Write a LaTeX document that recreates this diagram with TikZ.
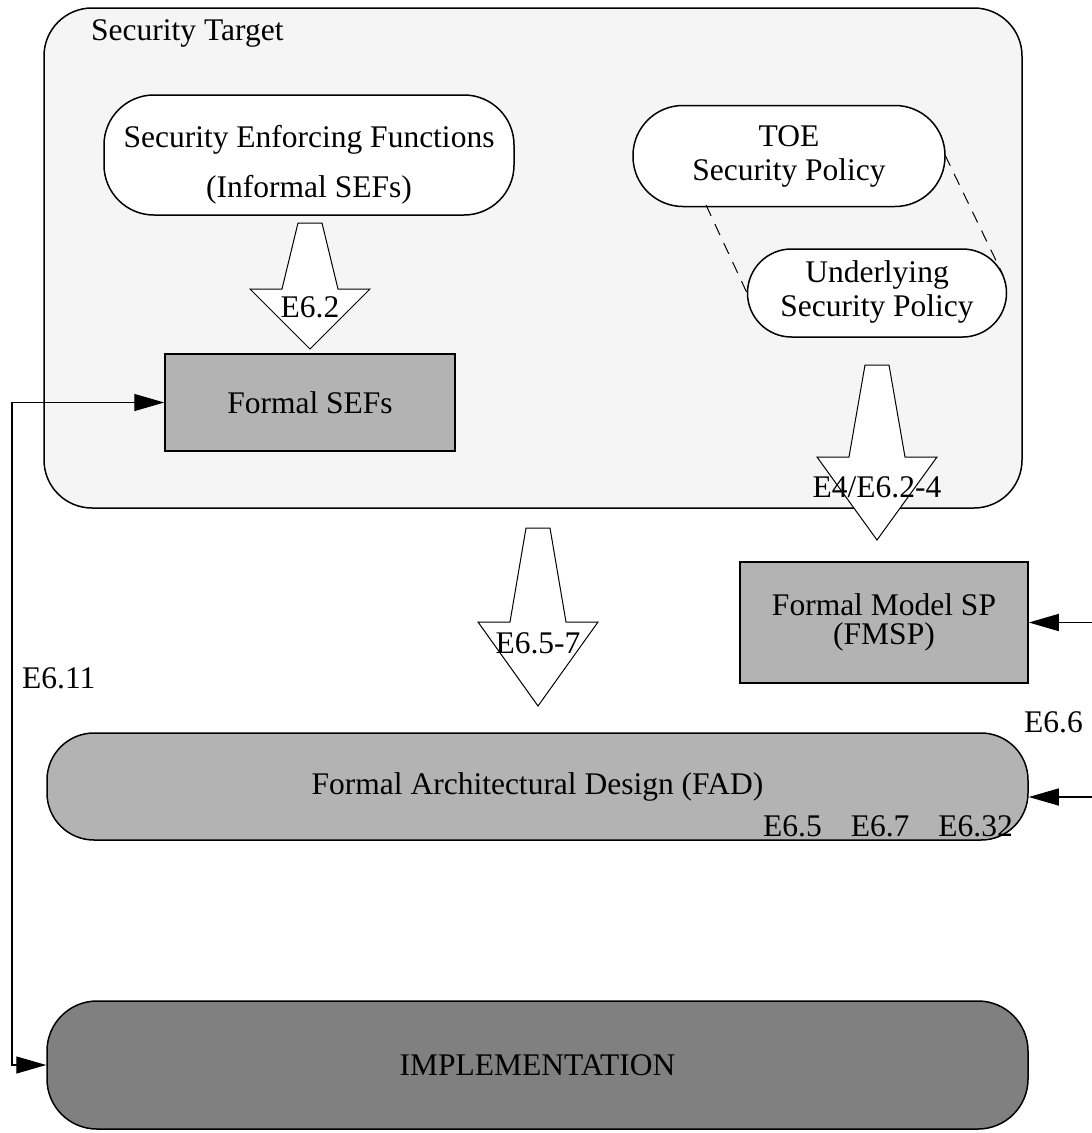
\documentclass[tikz,border=0pt]{standalone}
\usepackage{fontspec}
\setmainfont{Liberation Serif}
\usetikzlibrary{arrows.meta}
\definecolor{stbg}{RGB}{245,245,245}
\definecolor{midgray}{RGB}{179,179,179}
\definecolor{darkgray}{RGB}{128,128,128}
\tikzset{
  lbl/.style={font=\fontsize{31.5}{34}\selectfont, inner sep=0pt},
  box/.style={draw, line width=1.5pt, inner sep=0pt, lbl, align=center},
  pill/.style={box, fill=white, rounded corners=#1},
  blk/.style={draw, line width=1pt, fill=white},
  conn/.style={line width=1.3pt, -{Triangle[length=30pt,width=17pt]}},
  conn2/.style={line width=1.3pt, {Triangle[length=30pt,width=17pt]}-{Triangle[length=30pt,width=17pt]}},
  link/.style={line width=1pt, dash pattern=on 12pt off 9pt}
}
% downward block arrow: centre x, top y, shoulder y, tip y
\newcommand\blockarrow[4]{%
  \path[blk] ({#1-12},#2) -- ({#1+12},#2) -- ({#1+28},#3) -- ({#1+60},#3)
    -- (#1,#4) -- ({#1-60},#3) -- ({#1-28},#3) -- cycle;}
\begin{document}
\begin{tikzpicture}[x=1pt,y=-1pt]
\useasboundingbox (0,0) rectangle (1092,1133);

% Security Target container
\node[box, fill=stbg, rounded corners=48pt, minimum width=978pt, minimum height=500pt] (st) at (533,258) {};
\node[lbl, anchor=west] (sttitle) at (91,33) {Security Target};

% informal functions and policies
\node[pill=50pt, minimum width=410pt, minimum height=120pt] (sef) at (309,155) {};
\node[lbl, align=center] (seftext) at (309,165)
  {Security Enforcing Functions\\[16pt](Informal SEFs)};
\node[pill=50pt, minimum width=312pt, minimum height=101pt] (toe) at (789,156)
  {TOE\\Security Policy};
\node[pill=44pt, minimum width=259pt, minimum height=88pt] (usp) at (877,293)
  {\raisebox{-3pt}{\begin{tabular}{@{}c@{}}Underlying\\Security Policy\end{tabular}}};
\coordinate (d1a) at (706,205);
\coordinate (d1b) at (747,293);
\coordinate (d2a) at (945,155);
\coordinate (d2b) at (1003,275);
\draw[link] (d1a) -- (d1b);
\draw[link] (d2a) -- (d2b);

% formal SEFs
\node[box, fill=midgray, minimum width=290pt, minimum height=97pt] (fsef) at (310,402.5) {Formal SEFs};

% refinement arrows
\blockarrow{310}{223}{289}{349}
\node[lbl] (a1) at (310,307) {E6.2};
\blockarrow{877}{365}{457}{540}
\node[lbl] (a2) at (877,487) {E4/E6.2-4};
\blockarrow{538}{528}{622}{706}
\node[lbl] (a3) at (538,643) {E6.5-7};

% formal model of security policy
\node[box, fill=midgray, minimum width=288pt, minimum height=121pt] (fmsp) at (884,622.5)
  {Formal Model SP\\[-5pt](FMSP)};

% formal architectural design
\node[box, fill=midgray, rounded corners=47pt, minimum width=981pt, minimum height=107pt] (fad) at (537.5,786.5)
  {\raisebox{6pt}{Formal Architectural Design (FAD)}};
\node[lbl, anchor=east] (fadrefs) at (1013,826) {E6.5\hspace{29pt}E6.7\hspace{29pt}E6.32};

% implementation
\node[box, fill=darkgray, rounded corners=50pt, minimum width=981pt, minimum height=128pt] (impl) at (537.5,1065) {IMPLEMENTATION};

% correspondence connectors
\coordinate (lc) at (12,402.5);
\draw[conn2] (fsef.west) -- (lc) |- (impl.west);
\node[lbl, anchor=west] (e611) at (22,678) {E6.11};

\coordinate (r1) at (1092,622.5);
\coordinate (r2) at (1092,797);
\draw[conn] (r1) -- (fmsp.east);
\draw[conn] (r2) -- (r2 -| fad.east);
\node[lbl, anchor=west] (e66) at (1024,722) {E6.6};
\end{tikzpicture}
\end{document}
